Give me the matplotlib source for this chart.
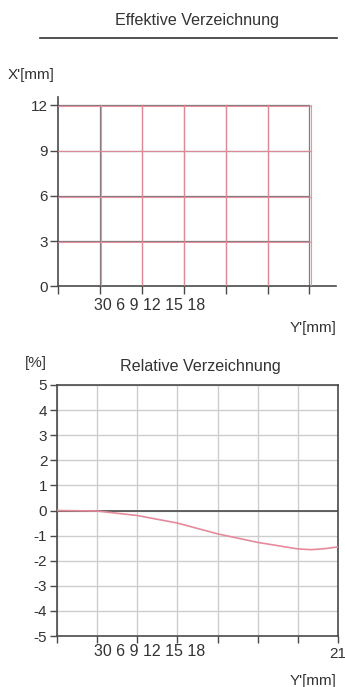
import matplotlib
matplotlib.use("Agg")
import matplotlib.pyplot as plt
from matplotlib.lines import Line2D

plt.rcParams["font.family"] = ["Liberation Sans", "DejaVu Sans"]
plt.rcParams["font.size"] = 11

# Effektive Verzeichnung: ideal grid (grey) and distorted grid (red)
grid_yp = [3, 6, 9, 12, 15, 18]       # Y' [mm], vertical lines
grid_xp = [3, 6, 9, 12]               # X' [mm], horizontal lines
dist_yp = [3.05, 6.05, 9.05, 12.05, 15.05, 18.1]
dist_xp = [2.95, 5.95, 8.95, 11.95]
top_yticks = [0, 3, 6, 9, 12]

# Relative Verzeichnung [%]
rel_x = [0, 3, 6, 9, 12, 15, 18, 19, 20, 21]
rel_y = [0, -0.02, -0.2, -0.5, -0.93, -1.27, -1.53, -1.56, -1.52, -1.45]
bot_xticks = [0, 3, 6, 9, 12, 15, 18, 21]
bot_yticks = [-5, -4, -3, -2, -1, 0, 1, 2, 3, 4, 5]

squashed = "30 6 9 12 15 18"
axis_col = "#4a4a4a"
txt_col = "#333333"
grey = "#857a7e"
red = "#e58a9a"

fig = plt.figure(figsize=(3.45, 6.87), dpi=100)

# ---- top chart
ax1 = fig.add_axes([0.168, 0.583, 0.806, 0.276])
ax1.set_xlim(0, 19.9)
ax1.set_ylim(0, 12.56)
for x in grid_yp:
    ax1.plot([x, x], [0, 12], color=grey, lw=0.9, zorder=2)
for x in dist_yp:
    ax1.plot([x, x], [0, 12], color=red, lw=0.8, alpha=0.9, zorder=3)
for y in grid_xp:
    ax1.plot([0, 18], [y, y], color=grey, lw=0.9, zorder=2)
for y in dist_xp:
    ax1.plot([0, 18.1], [y, y], color=red, lw=0.8, alpha=0.9, zorder=3)
ax1.set_xticks(grid_yp + [0])
ax1.set_xticklabels([])
ax1.set_yticks(top_yticks)
ax1.spines[["top", "right"]].set_visible(False)
for s in ["left", "bottom"]:
    ax1.spines[s].set_color(axis_col)
    ax1.spines[s].set_linewidth(1.2)
ax1.tick_params(direction="out", length=6, width=1, color=axis_col,
                labelcolor=txt_col, pad=1)
fig.text(94 / 345, 1 - 305 / 687, squashed, ha="left", va="center",
         color=txt_col, fontsize=11.5)
fig.text(337 / 345, 1 - 328 / 687, "Y'[mm]", ha="right", va="center",
         color=txt_col)
fig.text(8 / 345, 1 - 75 / 687, "X'[mm]", ha="left", va="center",
         color=txt_col)
fig.text(197 / 345, 1 - 20 / 687, "Effektive Verzeichnung", ha="center",
         va="center", color=txt_col, fontsize=11.6)
fig.add_artist(Line2D([40 / 345, 337 / 345], [1 - 38 / 687, 1 - 38 / 687],
                      color=txt_col, lw=1.2))

# ---- bottom chart
ax2 = fig.add_axes([0.1652, 0.0742, 0.8145, 0.3654])
ax2.set_xlim(0, 21)
ax2.set_ylim(-5, 5)
ax2.set_xticks(bot_xticks)
ax2.set_xticklabels([""] * (len(bot_xticks) - 1) + ["21"])
ax2.set_yticks(bot_yticks)
ax2.set_yticklabels([str(v) for v in bot_yticks])
ax2.grid(True, color="#cdcdcd", lw=1.0)
ax2.set_axisbelow(True)
ax2.axhline(0, color=axis_col, lw=1.2, zorder=2)
ax2.plot(rel_x, rel_y, color=red, lw=1.2, zorder=3)
for s in ax2.spines.values():
    s.set_color(axis_col)
    s.set_linewidth(1.2)
ax2.tick_params(direction="out", length=5, width=1, color=axis_col,
                labelcolor=txt_col, pad=2)
ax2.tick_params(axis="x", pad=3)
fig.text(94 / 345, 1 - 652 / 687, squashed, ha="left", va="center",
         color=txt_col, fontsize=11.5)
fig.text(337 / 345, 1 - 681 / 687, "Y'[mm]", ha="right", va="center",
         color=txt_col)
fig.text(25 / 345, 1 - 363 / 687, "[%]", ha="left", va="center",
         color=txt_col)
fig.text(200 / 345, 1 - 367 / 687, "Relative Verzeichnung", ha="center",
         va="center", color=txt_col, fontsize=11.6)

fig.savefig("out.png", dpi=100)
